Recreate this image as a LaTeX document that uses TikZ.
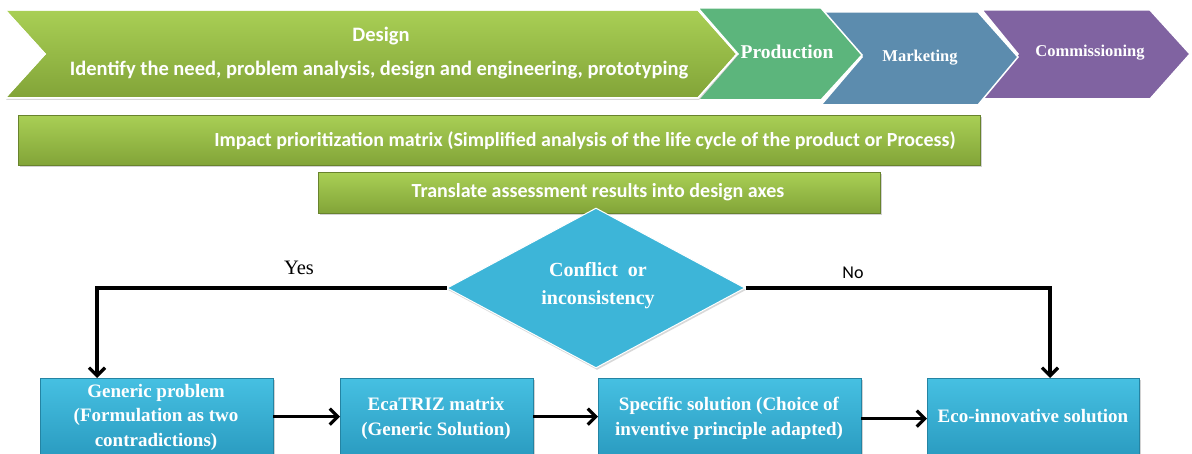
\documentclass[tikz,border=0pt]{standalone}
\usepackage{fontspec}
\setmainfont{Liberation Serif}
\newfontfamily\calib{Carlito}
\usetikzlibrary{shapes.geometric,arrows.meta,shadows}
\definecolor{gTop}{HTML}{A9CF55}
\definecolor{gBot}{HTML}{82A438}
\definecolor{prodC}{HTML}{5CB57C}
\definecolor{markC}{HTML}{5C8CAE}
\definecolor{commC}{HTML}{8063A1}
\definecolor{bTop}{HTML}{46C0E2}
\definecolor{bBot}{HTML}{2A9BC0}
\definecolor{diaC}{HTML}{3DB5D8}
\tikzset{
  chev/.style={draw=white, line width=1.5pt, line join=miter},
  greenbar/.style={rectangle, top color=gTop, bottom color=gBot, draw=gBot!80!black, line width=0.4pt,
    drop shadow={shadow xshift=1.5pt, shadow yshift=-2pt, opacity=0.35}},
  bluebox/.style={rectangle, top color=bTop, bottom color=bBot, draw=bBot!85!black, line width=0.4pt,
    text=white, font=\fontsize{19}{24.5}\selectfont\bfseries, align=center, inner sep=0pt,
    drop shadow={shadow xshift=1.5pt, shadow yshift=-2pt, opacity=0.35}},
  wtxt/.style={text=white, inner sep=0pt},
  conn/.style={line width=3.2pt, -{Straight Barb[length=8pt,width=16pt,line width=3.2pt]}},
}
\begin{document}
\begin{tikzpicture}[x=1pt,y=-1pt]
\useasboundingbox[fill=white] (0,0) rectangle (1192,454);
% chevrons
\path[chev, fill=commC] (982,10) -- (1150,10) -- (1190,54) -- (1150,99) -- (982,99) -- (1018,54) -- cycle;
\path[chev, fill=markC] (821,12) -- (978,12) -- (1018,57) -- (978,105) -- (821,105) -- (862,57) -- cycle;
\path[chev, fill=prodC] (698,8) -- (821,8) -- (862,55) -- (821,100) -- (698,100) -- (738,54) -- cycle;
\path[chev, top color=gTop, bottom color=gBot, drop shadow={shadow xshift=1pt, shadow yshift=-2pt, opacity=0.3}]
  (5,10) -- (698,10) -- (737,54) -- (698,98) -- (5,98) -- (45,54) -- cycle;
\path[chev] (5,10) -- (698,10) -- (737,54) -- (698,98) -- (5,98) -- (45,54) -- cycle;
\node[wtxt, font=\calib\fontsize{20.5}{24}\selectfont\bfseries] (design) at (381,36) {Design};
\node[wtxt, font=\calib\fontsize{20.5}{24}\selectfont\bfseries] (designsub) at (379,70) {Identify the need, problem analysis, design and engineering, prototyping};
\node[wtxt, font=\fontsize{19.5}{22}\selectfont\bfseries] (prod) at (787,52) {Production};
\node[wtxt, font=\fontsize{16.5}{19}\selectfont\bfseries] (mark) at (920,58) {Marketing};
\node[wtxt, font=\fontsize{16.5}{19}\selectfont\bfseries] (comm) at (1090,53) {Commissioning};
% green bars
\node[greenbar, minimum width=962pt, minimum height=50pt, anchor=north west, inner sep=0pt] (impact) at (18,115) {};
\node[wtxt, font=\calib\fontsize{20}{24}\selectfont\bfseries] (impacttxt) at (585,141) {Impact prioritization matrix (Simplified analysis of the life cycle of the product or Process)};
\node[greenbar, minimum width=562pt, minimum height=41pt, anchor=north west, inner sep=0pt] (transl) at (318,172) {};
\node[wtxt, font=\calib\fontsize{20}{24}\selectfont\bfseries] (transltxt) at (598,192) {Translate assessment results into design axes};
% diamond
\node[diamond, fill=diaC, draw=white, line width=1pt, minimum width=298pt, minimum height=160pt, inner sep=0pt,
  drop shadow={shadow xshift=1pt, shadow yshift=-2pt, opacity=0.3}] (dia) at (596,288) {};
\node[wtxt, align=center, font=\fontsize{20}{28}\selectfont\bfseries] (diatxt) at (598,286) {Conflict~~or\\inconsistency};
% blue boxes
\node[bluebox, minimum width=233pt, minimum height=79pt, anchor=north west] (b1) at (40,378) {};
\node[wtxt, align=center, font=\fontsize{19}{24.5}\selectfont\bfseries] (b1t) at (156,417) {Generic problem\\(Formulation as two\\contradictions)};
\node[bluebox, minimum width=193pt, minimum height=79pt, anchor=north west] (b2) at (340,378) {};
\node[wtxt, align=center, font=\fontsize{19}{25}\selectfont\bfseries] (b2t) at (436,418) {EcaTRIZ matrix\\(Generic Solution)};
\node[bluebox, minimum width=263pt, minimum height=79pt, anchor=north west] (b3) at (598,378) {};
\node[wtxt, align=center, font=\fontsize{19}{25}\selectfont\bfseries] (b3t) at (729,418) {Specific solution (Choice of\\inventive principle adapted)};
\node[bluebox, minimum width=212pt, minimum height=79pt, anchor=north west] (b4) at (927,378) {};
\node[wtxt, align=center, font=\fontsize{19}{25}\selectfont\bfseries] (b4t) at (1033,416) {Eco-innovative solution};
% connectors
\draw[conn] (dia.west) -| ([xshift=57pt]b1.north west);
\draw[conn] (dia.east) -| ([xshift=123pt]b4.north west);
\draw[conn] ([yshift=1pt]b1.east) -- ([yshift=1pt]b2.west);
\draw[conn] ([yshift=1pt]b2.east) -- ([yshift=1pt]b3.west);
\draw[conn] ([yshift=-1pt]b3.east) -- ([yshift=-1pt]b4.west);
\node[font=\fontsize{20.5}{24}\selectfont] (yes) at (299,268) {Yes};
\node[font=\calib\fontsize{18}{20}\selectfont] (no) at (853,273) {No};
\end{tikzpicture}
\end{document}
